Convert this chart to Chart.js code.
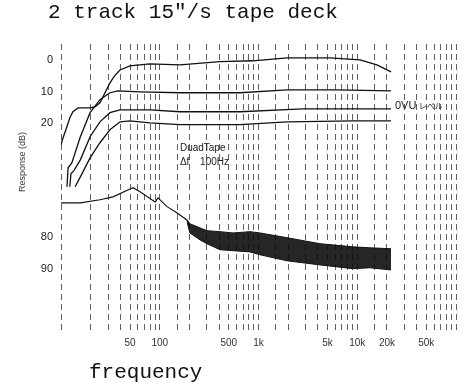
<!DOCTYPE html>
<html>
<head>
<meta charset="utf-8">
<script src="https://cdn.jsdelivr.net/npm/chart.js@4/dist/chart.umd.min.js"></script>
<style>
  html, body { margin: 0; padding: 0; background: #fff; }
  #wrap { position: relative; width: 466px; height: 391px; overflow: hidden; }
  canvas { position: absolute; left: 0; top: 0; }
  .txt { position: absolute; white-space: pre; color: #111; line-height: 1; }
  #title { left: 48px; top: 1px; font: 21px "Liberation Mono", monospace; }
  #xlab { left: 89px; top: 361px; font: 21px "Liberation Mono", monospace; }
  #ylab { left: 22px; top: 162px; font: 9px "Liberation Sans", sans-serif; color: #333;
          transform: translate(-50%, -50%) rotate(-90deg); }
</style>
</head>
<body>
<div id="wrap">
  <canvas id="c" width="466" height="391"></canvas>
  <div class="txt" id="title">2 track 15"/s tape deck</div>
  <div class="txt" id="xlab">frequency</div>
  <div class="txt" id="ylab">Response (dB)</div>
</div>
<script>
// ---- data (frequency in Hz, response in dB below reference) ----
const freq0  = [10, 10.5, 11.2, 12.3, 13.2, 14.9, 19.7, 22.3, 24.8, 27.5, 31.3, 35, 39.6, 50, 79.4, 160, 407, 880, 1950, 5300, 10700, 15800, 22000];
const db0    = [26.9, 24.6, 22.1, 18.3, 16.4, 15.2, 15.2, 14.8, 13.6, 10.8, 7.3, 5, 3.2, 1.9, 1.3, 1.6, 0.6, 0.3, -0.6, -0.6, 0, 1.6, 3.8];

const freq10 = [11.5, 11.8, 12.9, 15.7, 19.7, 24.8, 31.3, 37.8, 63, 160, 650, 1950, 6240, 22000];
const db10   = [40.1, 34.1, 32.5, 24.3, 16.7, 12.6, 10.4, 9.8, 10.1, 10.4, 10.4, 9.5, 9.5, 9.8];

const freq15 = [12.3, 12.6, 13.5, 15.7, 19.7, 24.8, 31.3, 39.6, 79.4, 160, 650, 2820, 22000];
const db15   = [40.1, 36, 35, 31.6, 24.3, 19.6, 16.7, 15.8, 15.8, 16.4, 16.4, 15.5, 15.5];

const freq20 = [13.9, 15.7, 19.7, 24.8, 31.3, 39.6, 50, 79.4, 160, 650, 1950, 9100, 22000];
const db20   = [40.1, 37, 31, 26.2, 22.1, 19.6, 19.3, 19.9, 20.5, 20.5, 19.6, 19.3, 19.3];

const freqNoise = [10, 15.7, 24.8, 33.6, 50, 53.6, 63.1, 89.8, 96, 118.5, 149, 188, 202];
const dbNoise   = [45.2, 45.2, 44.2, 43.3, 40.8, 40.4, 41.7, 44.9, 43.6, 46.4, 48.3, 50.6, 53];

const freqBand   = [190, 202, 256, 301, 407, 552, 820, 1036, 1945, 4196, 9100, 13460, 22000];
const bandTop    = [50.6, 51.8, 53.1, 54.0, 54.3, 54.7, 54.3, 54.7, 56.2, 58.1, 59.1, 59.4, 59.7];
const bandBottom = [51.5, 54.7, 56.9, 58.1, 60.0, 60.3, 60.7, 61.6, 63.5, 64.8, 66.0, 65.7, 66.4];

// tick labels
const xTickValues = [50, 100, 500, 1000, 5000, 10000, 20000, 50000];
const xTickLabels = ['50', '100', '500', '1k', '5k', '10k', '20k', '50k'];
const yTickValues = [0, 10, 20, 56, 66];
const yTickLabels = ['0', '10', '20', '80', '90'];

// annotations (anchored in data units)
const notes = [
  { text: 'DuadTape', f: 160, db: 27.8, font: '10px "Liberation Sans"' },
  { text: 'Δf', f: 160, db: 32.5, font: '10px "Liberation Sans"' },
  { text: '100Hz', f: 256, db: 32.5, font: '10px "Liberation Sans"' },
  { text: '0VU', f: 24100, db: 14.6, font: '11px "Liberation Sans"' },
  { text: 'レベル', f: 42000, db: 14.6, font: '8px "Noto Sans CJK JP"' }
];

const pts = (xs, ys) => xs.map((x, i) => ({ x: x, y: ys[i] }));
const lineDs = (xs, ys, extra) => Object.assign({
  data: pts(xs, ys), borderColor: '#111', borderWidth: 1.3,
  pointRadius: 0, tension: 0, fill: false
}, extra || {});

const notePlugin = {
  id: 'notes',
  afterDatasetsDraw(chart) {
    const { ctx, scales } = chart;
    ctx.save();
    ctx.fillStyle = '#222';
    ctx.textAlign = 'left';
    ctx.textBaseline = 'middle';
    notes.forEach(n => {
      ctx.font = n.font;
      ctx.fillText(n.text, scales.x.getPixelForValue(n.f), scales.y.getPixelForValue(n.db));
    });
    ctx.restore();
  }
};

new Chart(document.getElementById('c'), {
  type: 'line',
  data: {
    datasets: [
      lineDs(freq0, db0),
      lineDs(freq10, db10),
      lineDs(freq15, db15),
      lineDs(freq20, db20),
      lineDs(freqNoise, dbNoise, { borderWidth: 1.1 }),
      lineDs(freqBand, bandTop, { borderWidth: 1 }),
      lineDs(freqBand, bandBottom, { borderWidth: 1, fill: '-1', backgroundColor: 'rgba(8,8,8,0.88)' })
    ]
  },
  options: {
    responsive: false,
    animation: false,
    devicePixelRatio: 1,
    layout: { padding: { top: 44, right: 10, left: 0, bottom: 0 } },
    plugins: { legend: { display: false }, tooltip: { enabled: false }, title: { display: false } },
    scales: {
      x: {
        type: 'logarithmic',
        min: 10, max: 100000,
        afterFit(s) { s.height = 59; },
        grid: { display: true, color: 'rgba(0,0,0,0.62)', lineWidth: 1, drawTicks: false },
        border: { display: false, dash: [6, 4] },
        ticks: {
          autoSkip: false, maxRotation: 0, padding: 5,
          color: '#333', font: { family: 'Liberation Sans', size: 10 },
          callback(v) {
            const i = xTickValues.indexOf(Number(v));
            return i >= 0 ? xTickLabels[i] : '';
          }
        }
      },
      y: {
        type: 'linear',
        reverse: true,
        min: -5, max: 86,
        afterFit(s) { s.width = 61; },
        afterBuildTicks(s) { s.ticks = yTickValues.map(v => ({ value: v })); },
        grid: { display: false, drawTicks: false },
        border: { display: false },
        ticks: {
          padding: 8, color: '#222', font: { family: 'Liberation Sans', size: 11 },
          callback(v) {
            const i = yTickValues.indexOf(Number(v));
            return i >= 0 ? yTickLabels[i] : '';
          }
        }
      }
    }
  },
  plugins: [notePlugin]
});
</script>
</body>
</html>
